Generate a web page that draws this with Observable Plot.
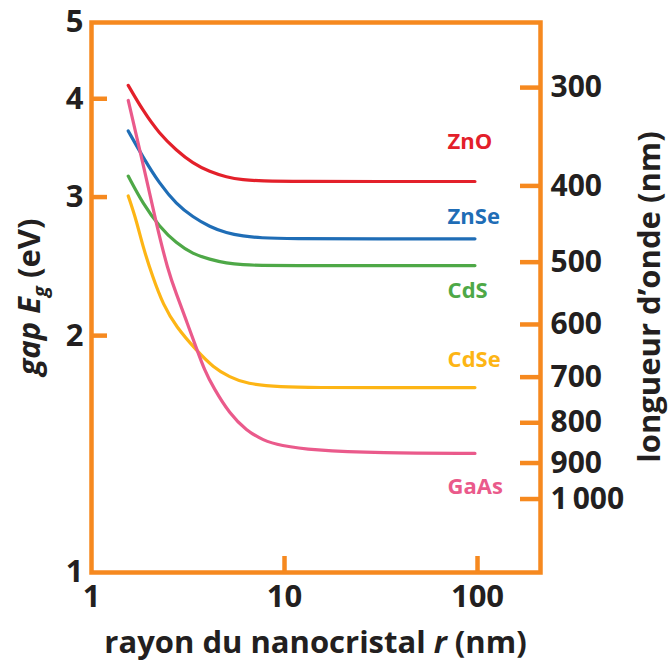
<!DOCTYPE html>
<html>
<head>
<meta charset="utf-8">
<script src="https://cdn.jsdelivr.net/npm/d3@7"></script>
<script src="https://cdn.jsdelivr.net/npm/@observablehq/plot@0.6"></script>
<style>
  html, body { margin: 0; padding: 0; background: #ffffff; }
  #chart svg { display: block; }
</style>
</head>
<body>
<div id="chart"></div>
<script>
// ---------- data ----------
const seriesNames  = ["ZnO", "ZnSe", "CdS", "CdSe", "GaAs"];
const seriesColors = ["#e3202a", "#1f6db6", "#4ea847", "#fdb515", "#ea5a8b"];

// radius r (nm) and gap E (eV) per material
const rZnO  = [1.55, 1.85, 2.25, 2.75, 3.35, 4.1, 5.0, 6.1, 7.5, 12, 30, 97];
const eZnO  = [4.16, 3.86, 3.61, 3.44, 3.31, 3.23, 3.18, 3.155, 3.145, 3.14, 3.14, 3.14];
const rZnSe = [1.55, 1.85, 2.25, 2.75, 3.35, 4.1, 5.0, 6.1, 7.5, 10.5, 30, 97];
const eZnSe = [3.64, 3.37, 3.12, 2.94, 2.83, 2.75, 2.70, 2.676, 2.662, 2.655, 2.655, 2.655];
const rCdS  = [1.55, 1.85, 2.25, 2.75, 3.35, 4.1, 5.0, 6.1, 7.5, 10.5, 30, 97];
const eCdS  = [3.19, 2.94, 2.75, 2.62, 2.54, 2.50, 2.472, 2.46, 2.456, 2.455, 2.455, 2.455];
const rCdSe = [1.55, 1.71, 1.85, 2.08, 2.35, 2.75, 3.5, 4.27, 5.2, 6.35, 9.5, 15, 30, 97];
const eCdSe = [3.01, 2.80, 2.59, 2.37, 2.19, 2.05, 1.915, 1.823, 1.771, 1.737, 1.72, 1.718, 1.718, 1.718];
const rGaAs = [1.55, 1.885, 2.17, 2.49, 2.75, 3.1, 3.49, 3.86, 4.27, 5.2, 6.35, 7.75, 9.5, 14, 31, 97];
const eGaAs = [3.98, 3.24, 2.77, 2.42, 2.26, 2.09, 1.93, 1.805, 1.72, 1.59, 1.515, 1.472, 1.45, 1.43, 1.418, 1.417];

// label anchor positions (data space)
const labelR = [70, 70, 70, 70, 70];
const labelE = [3.52, 2.83, 2.28, 1.86, 1.283];

// axes
const gapTicks = [1, 2, 3, 4, 5];
const gapInnerTicks = [2, 3, 4];
const radiusTicks = [1, 10, 100];
const radiusInnerTicks = [10, 100];
const wavelengths = [300, 400, 500, 600, 700, 800, 900, 1000];
const wavelengthLabels = ["300", "400", "500", "600", "700", "800", "900", "1\u2009000"];

// ---------- build tables ----------
const curves = [[rZnO, eZnO], [rZnSe, eZnSe], [rCdS, eCdS], [rCdSe, eCdSe], [rGaAs, eGaAs]];
const rows = seriesNames.flatMap((name, k) =>
  curves[k][0].map((r, i) => ({series: name, r, E: curves[k][1][i]})));
const labels = seriesNames.map((name, k) => ({series: name, r: labelR[k], E: labelE[k]}));
const waveE = wavelengths.map(l => 1239.84 / l);   // photon energy of each wavelength tick

// ---------- layout ----------
const W = 671, H = 664;
const mL = 91, mR = 131, mT = 22, mB = 92;
const innerW = W - mL - mR, innerH = H - mT - mB;
const ORANGE = "#f6891f";
const INK = "#231f20";
const FONT = "'Open Sans', 'DejaVu Sans', sans-serif";

const chart = Plot.plot({
  width: W,
  height: H,
  marginLeft: mL, marginRight: mR, marginTop: mT, marginBottom: mB,
  style: {fontFamily: FONT, background: "#ffffff", color: INK, overflow: "visible"},
  x: {type: "log", domain: [1, 212]},
  y: {type: "log", domain: [1, 5]},
  color: {domain: seriesNames, range: seriesColors},
  marks: [
    // inward ticks
    Plot.tickY(gapInnerTicks, {y: d => d, stroke: ORANGE, strokeWidth: 4.5, insetRight: innerW - 16}),
    Plot.tickY(waveE, {y: d => d, stroke: ORANGE, strokeWidth: 4.5, insetLeft: innerW - 20}),
    Plot.tickX(radiusInnerTicks, {x: d => d, stroke: ORANGE, strokeWidth: 4.5, insetTop: innerH - 16}),
    Plot.frame({stroke: ORANGE, strokeWidth: 4.5}),
    // curves
    Plot.line(rows, {x: "r", y: "E", z: "series", stroke: "series", strokeWidth: 3.2,
      strokeLinecap: "round", curve: "basis"}),
    // series labels
    Plot.text(labels, {x: "r", y: "E", text: "series", fill: "series", textAnchor: "start",
      fontSize: 22, fontWeight: "bold"}),
    // axes (labels only)
    Plot.axisX({ticks: radiusTicks, tickSize: 0, tickPadding: 12, tickFormat: d => String(d),
      fontSize: 31, fontWeight: "bold", fill: INK, label: null}),
    Plot.axisY({ticks: gapTicks, anchor: "left", tickSize: 0, tickPadding: 8, tickFormat: d => String(d),
      fontSize: 31, fontWeight: "bold", fill: INK, label: null}),
    Plot.axisY({ticks: waveE, anchor: "right", tickSize: 0, tickPadding: 10,
      tickFormat: d => wavelengthLabels[waveE.indexOf(d)],
      fontSize: 30, fontWeight: "bold", fill: INK, label: null})
  ]
});

document.getElementById("chart").appendChild(chart);

// ---------- axis titles (with italic / subscript parts) ----------
const svg = d3.select(chart);
const titles = svg.append("g")
  .attr("font-family", FONT)
  .attr("font-weight", "bold")
  .attr("font-size", 31)
  .attr("fill", INK);

const xt = titles.append("text")
  .attr("x", mL + innerW / 2)
  .attr("y", 653)
  .attr("text-anchor", "middle");
xt.append("tspan").text("rayon du nanocristal ");
xt.append("tspan").attr("font-style", "italic").text("r");
xt.append("tspan").text(" (nm)");

const yt = titles.append("text")
  .attr("transform", `translate(40,${mT + innerH / 2}) rotate(-90)`)
  .attr("text-anchor", "middle");
yt.append("tspan").attr("font-style", "italic").text("gap E");
yt.append("tspan").attr("font-style", "italic").attr("font-size", 20).attr("dy", 7).text("g");
yt.append("tspan").attr("dy", -7).text(" (eV)");

titles.append("text")
  .attr("transform", `translate(660,${mT + innerH / 2}) rotate(-90)`)
  .attr("text-anchor", "middle")
  .text("longueur d\u2019onde (nm)");
</script>
</body>
</html>
